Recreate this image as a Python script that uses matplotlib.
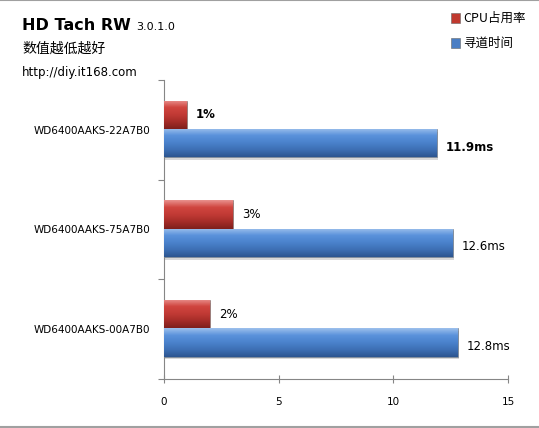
import numpy as np
import matplotlib
matplotlib.use("Agg")
import matplotlib.pyplot as plt
from matplotlib.colors import LinearSegmentedColormap
from matplotlib.lines import Line2D

plt.rcParams['font.family'] = ['DejaVu Sans', 'Noto Sans CJK SC']

# data
drives = ["WD6400AAKS-22A7B0", "WD6400AAKS-75A7B0", "WD6400AAKS-00A7B0"]
cpu_usage = [1, 3, 2]            # %
seek_time = [11.9, 12.6, 12.8]   # ms
cpu_labels = ["1%", "3%", "2%"]
seek_labels = ["11.9ms", "12.6ms", "12.8ms"]
series_names = ["CPU占用率", "寻道时间"]
xticks = [0, 5, 10, 15]

red_cmap = LinearSegmentedColormap.from_list(
    "r", ["#e9908c", "#d0453f", "#c13a35", "#a52c28", "#7e1f1c"])
blue_cmap = LinearSegmentedColormap.from_list(
    "b", ["#9dc0ec", "#5a92db", "#4a82cc", "#3d6fb4", "#2c5590"])

fig = plt.figure(figsize=(5.39, 4.28), dpi=100)
ax = fig.add_axes([164 / 539, 1 - 379 / 428, 344 / 539, 299 / 428])

ax.set_xlim(0, 15)
ax.set_ylim(3, 0)

h = 0.285
grad = np.linspace(0, 1, 100).reshape(-1, 1)


def grad_bar(y, w, color, cmap):
    # shadow
    ax.barh(y + 0.025, w, height=h, left=0.06, color="#d8d8d8", zorder=1)
    bar = ax.barh(y, w, height=h, color=color, edgecolor="#7a7a7a",
                  linewidth=0.4, zorder=2)[0]
    im = ax.imshow(grad, cmap=cmap, aspect="auto", zorder=3,
                   extent=[0, w, y + h / 2, y - h / 2])
    im.set_clip_path(bar)


for i in range(len(drives)):
    yc = i + 0.35
    yb = i + 0.635
    grad_bar(yc, cpu_usage[i], "#c0392f", red_cmap)
    grad_bar(yb, seek_time[i], "#4a7ec4", blue_cmap)
    weight = "bold" if i == 0 else "normal"
    ax.text(cpu_usage[i] + 0.4, yc, cpu_labels[i], va="center", ha="left",
            fontsize=8.5, fontweight=weight, color="black", zorder=4)
    ax.text(seek_time[i] + 0.4, yb + 0.04, seek_labels[i], va="center",
            ha="left", fontsize=8.5, fontweight=weight, color="black", zorder=4)

ax.set_xlim(0, 15)
ax.set_ylim(3, 0)

for s in ["top", "right"]:
    ax.spines[s].set_visible(False)
ax.spines["left"].set_color("#868686")
ax.spines["bottom"].set_color("#868686")

ax.set_xticks(xticks)
ax.set_xticklabels([str(t) for t in xticks], fontsize=7.5)
ax.tick_params(axis="x", direction="inout", length=6, color="#868686", pad=10)

ax.set_yticks([0, 1, 2, 3])
ax.set_yticklabels([])
ax.tick_params(axis="y", which="major", direction="out", length=4, color="#868686")
ax.set_yticks([0.5, 1.5, 2.5], minor=True)
ax.set_yticklabels(drives, minor=True, fontsize=7.5)
ax.tick_params(axis="y", which="minor", length=0, pad=10)

# titles
title = fig.text(22 / 539, 1 - 30 / 428, "HD Tach RW", fontsize=11.5,
                 fontweight="bold", ha="left", va="baseline")
fig.canvas.draw()
bb = title.get_window_extent()
fig.text(bb.x1 / 539 + 5 / 539, 1 - 30 / 428, "3.0.1.0", fontsize=8,
         ha="left", va="baseline")
fig.text(22 / 539, 1 - 53 / 428, "数值越低越好", fontsize=10,
         family=["Noto Sans CJK SC", "DejaVu Sans"], ha="left", va="baseline")
fig.text(22 / 539, 1 - 76 / 428, "http://diy.it168.com", fontsize=8.5,
         ha="left", va="baseline")

# legend
leg_colors = ["#c0392f", "#4a7ec4"]
leg_y = [18, 43]
for c, yy, name in zip(leg_colors, leg_y, series_names):
    fig.patches.append(plt.Rectangle((451 / 539, 1 - (yy + 4.5) / 428), 9 / 539, 9 / 428,
                                     transform=fig.transFigure, facecolor=c,
                                     edgecolor="#666666", linewidth=0.4))
    fig.text(463 / 539, 1 - yy / 428, name, fontsize=9,
             family=["Noto Sans CJK SC", "DejaVu Sans"], ha="left", va="center")

# border lines top and bottom
fig.add_artist(Line2D([0, 1], [0.999, 0.999], color="#a0a0a0", lw=1.5,
                      transform=fig.transFigure))
fig.add_artist(Line2D([0, 1], [0.003, 0.003], color="#a0a0a0", lw=1.5,
                      transform=fig.transFigure))

fig.savefig("out.png", dpi=100)
